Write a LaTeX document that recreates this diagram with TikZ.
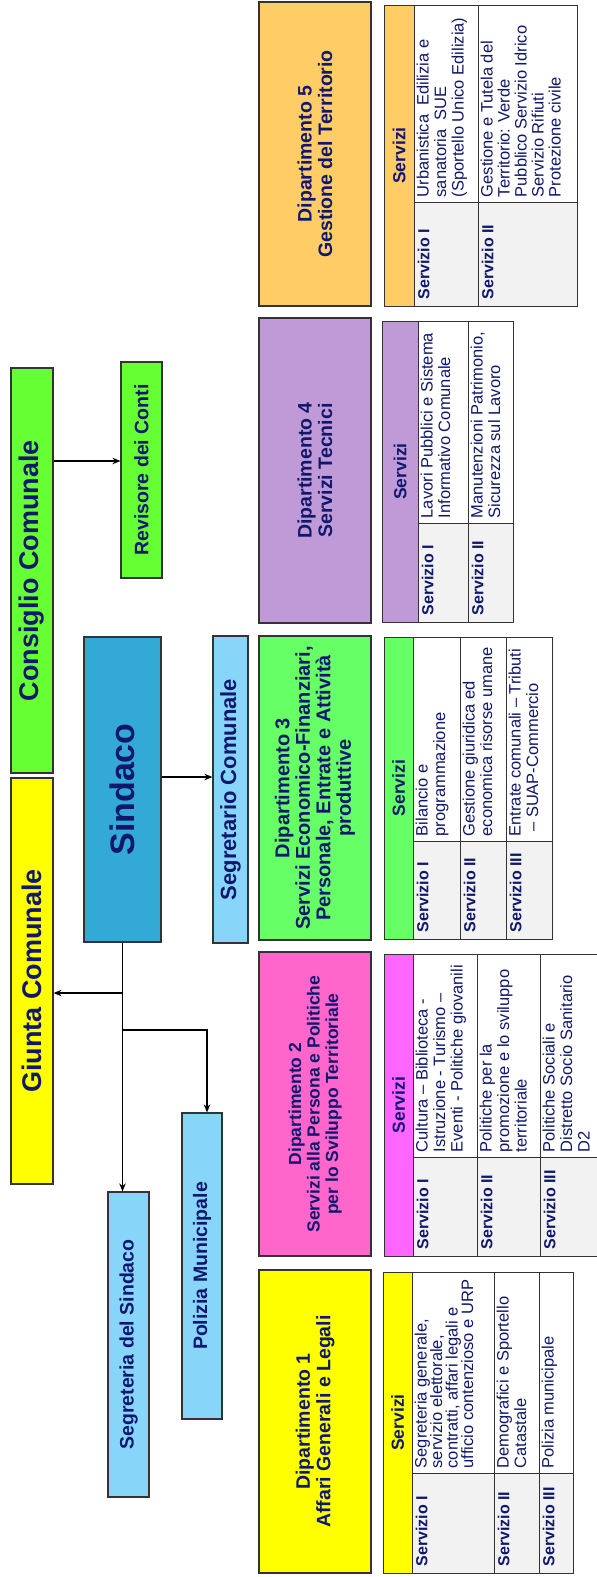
\documentclass[tikz,border=0pt]{standalone}
\usepackage{fontspec}
\setmainfont{Liberation Sans}
\usetikzlibrary{arrows.meta,calc}

\definecolor{navy}{RGB}{16,24,110}
\definecolor{consgreen}{RGB}{102,255,51}
\definecolor{giallo}{RGB}{255,255,0}
\definecolor{sindblue}{RGB}{51,170,214}
\definecolor{celeste}{RGB}{135,214,250}
\definecolor{rosa}{RGB}{255,102,204}
\definecolor{fucsia}{RGB}{255,102,255}
\definecolor{verde}{RGB}{102,255,102}
\definecolor{viola}{RGB}{192,154,214}
\definecolor{arancio}{RGB}{255,204,102}
\definecolor{grigio}{RGB}{242,242,242}

\begin{document}
\begin{tikzpicture}[x=1pt,y=-1pt,>={Stealth[length=8pt,width=6.5pt]}]
	\tikzstyle{every node}=[rotate=90,inner sep=0pt,text=navy]
	\tikzstyle{unit}=[draw=black!80,line width=1.2pt,align=center,font=\bfseries\fontsize{19.5}{21}\selectfont]
	\tikzstyle{dept}=[unit,font=\bfseries\fontsize{19.5}{20.5}\selectfont]
	\tikzstyle{cell}=[draw=black!80,line width=0.9pt,fill=white]
	\tikzstyle{head}=[cell,font=\bfseries\fontsize{17.5}{20}\selectfont]
	\tikzstyle{lab}=[anchor=north west,inner xsep=7pt,inner ysep=4pt,font=\bfseries\fontsize{16}{18}\selectfont]
	\tikzstyle{desc}=[anchor=north west,inner xsep=5pt,inner ysep=3pt,align=left,font=\fontsize{16.5}{17.5}\selectfont]
	\tikzstyle{arr}=[->,line width=1.4pt]

	\useasboundingbox (0,0) rectangle (597,1577);

	% organi
	\node[unit,fill=consgreen,minimum width=405,minimum height=42,font=\bfseries\fontsize{27}{30}\selectfont] (cons) at (32,570.5) {Consiglio Comunale};
	\node[unit,fill=giallo,minimum width=406,minimum height=42,font=\bfseries\fontsize{27}{30}\selectfont] (giunta) at (32,981) {Giunta Comunale};
	\node[unit,fill=consgreen,minimum width=216,minimum height=41] (rev) at (141.5,470) {Revisore dei Conti};
	\node[unit,fill=sindblue,minimum width=305,minimum height=77,font=\bfseries\fontsize{34}{36}\selectfont] (sind) at (122.5,789.5) {Sindaco};
	\node[unit,fill=celeste,minimum width=307,minimum height=35,font=\bfseries\fontsize{22}{24}\selectfont] (segcom) at (230.5,789.5) {Segretario Comunale};
	\node[unit,fill=celeste,minimum width=305,minimum height=41] (segsind) at (128.5,1344.5) {Segreteria del Sindaco};
	\node[unit,fill=celeste,minimum width=306,minimum height=40] (poliz) at (202,1266) {Polizia Municipale};

	% dipartimenti
	\node[dept,fill=arancio,minimum width=304,minimum height=112] (dip5) at (315,154) {Dipartimento 5\\Gestione del Territorio};
	\node[dept,fill=viola,minimum width=305,minimum height=112] (dip4) at (315,470.5) {Dipartimento 4\\Servizi Tecnici};
	\node[dept,fill=verde,minimum width=304,minimum height=112,font=\bfseries\fontsize{20}{20.5}\selectfont] (dip3) at (315,788) {Dipartimento 3\\Servizi Economico-Finanziari,\\Personale, Entrate e Attività\\produttive};
	\node[dept,fill=rosa,minimum width=304,minimum height=112,font=\bfseries\fontsize{17.5}{18.5}\selectfont] (dip2) at (315,1104) {Dipartimento 2\\Servizi alla Persona e Politiche\\per lo Sviluppo Territoriale};
	\node[dept,fill=giallo,minimum width=303,minimum height=112] (dip1) at (315,1421.5) {Dipartimento 1\\Affari Generali e Legali};

	% servizi dip. 5
	\node[head,fill=arancio,minimum width=301,minimum height=30] (s5) at (399,155.5) {Servizi};
	\node[cell,fill=grigio,minimum width=104,minimum height=64] (s5l1) at (446,254) {};
	\node[cell,minimum width=197,minimum height=64] (s5d1) at (446,103.5) {};
	\node[cell,fill=grigio,minimum width=104,minimum height=99] (s5l2) at (527.5,254) {};
	\node[cell,minimum width=197,minimum height=99] (s5d2) at (527.5,103.5) {};
	\node[lab] (t5l1) at (s5l1.north west) {Servizio I};
	\node[desc] (t5d1) at (s5d1.north west) {Urbanistica\ \ Edilizia e\\sanatoria\ \ SUE\\(Sportello Unico Edilizia)};
	\node[lab] (t5l2) at (s5l2.north west) {Servizio II};
	\node[desc,font=\fontsize{16.5}{17}\selectfont] (t5d2) at (s5d2.north west) {Gestione e Tutela del\\Territorio: Verde\\Pubblico Servizio Idrico\\Servizio Rifiuti\\Protezione civile};

	% servizi dip. 4
	\node[head,fill=viola,minimum width=301,minimum height=36] (s4) at (400,471.5) {Servizi};
	\node[cell,fill=grigio,minimum width=99,minimum height=50] (s4l1) at (443,572.5) {};
	\node[cell,minimum width=202,minimum height=50] (s4d1) at (443,422) {};
	\node[cell,fill=grigio,minimum width=99,minimum height=45] (s4l2) at (490.5,572.5) {};
	\node[cell,minimum width=202,minimum height=45] (s4d2) at (490.5,422) {};
	\node[lab] (t4l1) at (s4l1.north west) {Servizio I};
	\node[desc] (t4d1) at (s4d1.north west) {Lavori Pubblici e Sistema\\Informativo Comunale};
	\node[lab] (t4l2) at (s4l2.north west) {Servizio II};
	\node[desc] (t4d2) at (s4d2.north west) {Manutenzioni Patrimonio,\\Sicurezza sul Lavoro};

	% servizi dip. 3
	\node[head,fill=verde,minimum width=302,minimum height=29] (s3) at (398.5,788) {Servizi};
	\node[cell,fill=grigio,minimum width=98,minimum height=47] (s3l1) at (436.5,890) {};
	\node[cell,minimum width=204,minimum height=47] (s3d1) at (436.5,739) {};
	\node[cell,fill=grigio,minimum width=98,minimum height=46] (s3l2) at (483,890) {};
	\node[cell,minimum width=204,minimum height=46] (s3d2) at (483,739) {};
	\node[cell,fill=grigio,minimum width=98,minimum height=46] (s3l3) at (529,890) {};
	\node[cell,minimum width=204,minimum height=46] (s3d3) at (529,739) {};
	\node[lab] (t3l1) at (s3l1.north west) {Servizio I};
	\node[desc] (t3d1) at (s3d1.north west) {Bilancio e\\programmazione};
	\node[lab] (t3l2) at (s3l2.north west) {Servizio II};
	\node[desc] (t3d2) at (s3d2.north west) {Gestione giuridica ed\\economica risorse umane};
	\node[lab] (t3l3) at (s3l3.north west) {Servizio III};
	\node[desc] (t3d3) at (s3d3.north west) {Entrate comunali – Tributi\\\ – SUAP-Commercio};

	% servizi dip. 2
	\node[head,fill=fucsia,minimum width=302,minimum height=29] (s2) at (398.5,1105) {Servizi};
	\node[cell,fill=grigio,minimum width=99,minimum height=64] (s2l1) at (445,1206.5) {};
	\node[cell,minimum width=203,minimum height=64] (s2d1) at (445,1055.5) {};
	\node[cell,fill=grigio,minimum width=99,minimum height=63] (s2l2) at (508.5,1206.5) {};
	\node[cell,minimum width=203,minimum height=63] (s2d2) at (508.5,1055.5) {};
	\node[cell,fill=grigio,minimum width=99,minimum height=58] (s2l3) at (569,1206.5) {};
	\node[cell,minimum width=203,minimum height=58] (s2d3) at (569,1055.5) {};
	\node[lab] (t2l1) at (s2l1.north west) {Servizio I};
	\node[desc] (t2d1) at (s2d1.north west) {Cultura – Biblioteca -\\Istruzione - Turismo –\\Eventi - Politiche giovanili};
	\node[lab] (t2l2) at (s2l2.north west) {Servizio II};
	\node[desc] (t2d2) at (s2d2.north west) {Politiche per la\\promozione e lo sviluppo\\territoriale};
	\node[lab] (t2l3) at (s2l3.north west) {Servizio III};
	\node[desc] (t2d3) at (s2d3.north west) {Politiche Sociali e\\Distretto Socio Sanitario\\D2};

	% servizi dip. 1
	\node[head,fill=giallo,minimum width=301,minimum height=29] (s1) at (397.5,1422.5) {Servizi};
	\node[cell,fill=grigio,minimum width=100,minimum height=82] (s1l1) at (453,1523) {};
	\node[cell,minimum width=201,minimum height=82] (s1d1) at (453,1372.5) {};
	\node[cell,fill=grigio,minimum width=100,minimum height=45] (s1l2) at (516.5,1523) {};
	\node[cell,minimum width=201,minimum height=45] (s1d2) at (516.5,1372.5) {};
	\node[cell,fill=grigio,minimum width=100,minimum height=34] (s1l3) at (556,1523) {};
	\node[cell,minimum width=201,minimum height=34] (s1d3) at (556,1372.5) {};
	\node[lab] (t1l1) at (s1l1.north west) {Servizio I};
	\node[desc,font=\fontsize{16.5}{15.5}\selectfont] (t1d1) at (s1d1.north west) {Segreteria generale,\\servizio elettorale,\\contratti, affari legali e\\ufficio contenzioso e URP};
	\node[lab] (t1l2) at (s1l2.north west) {Servizio II};
	\node[desc] (t1d2) at (s1d2.north west) {Demografici e Sportello\\Catastale};
	\node[lab] (t1l3) at (s1l3.north west) {Servizio III};
	\node[desc] (t1d3) at (s1d3.north west) {Polizia municipale};

	% collegamenti
	\draw[arr] (cons.south |- 0,461) -- (rev.north |- 0,461);
	\draw[arr] (sind.south |- 0,777) -- (segcom.north |- 0,777);
	\draw[arr] (sind.west) -- (sind.west |- segsind.east);
	\draw[arr] (sind.west |- 0,993) -- (giunta.south |- 0,993);
	\draw[arr] (sind.west |- 0,1030) -| ([xshift=5pt]poliz.east);
\end{tikzpicture}
\end{document}
